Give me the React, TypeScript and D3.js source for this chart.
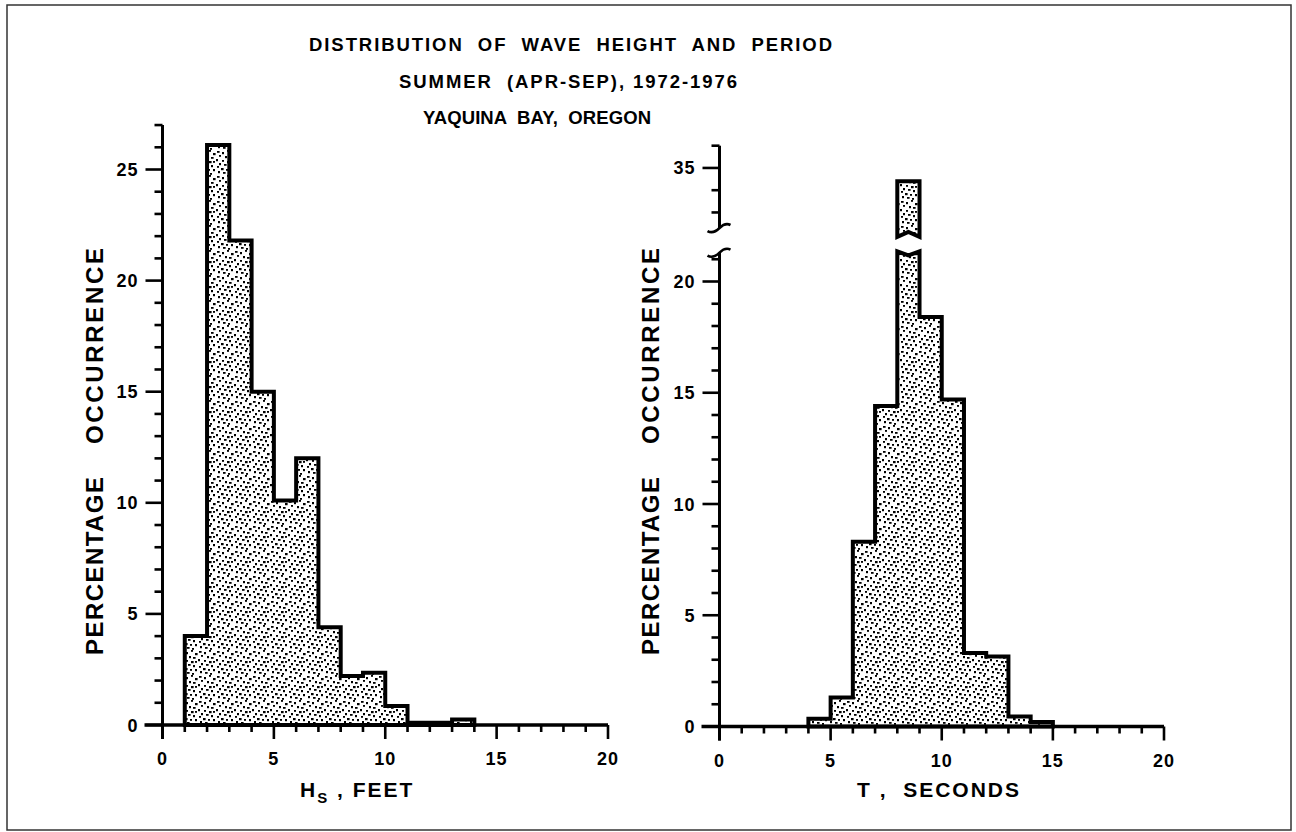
import React from "react";
import * as d3 from "d3";

// ---------- DATA ----------
const hsBinStart = [1, 2, 3, 4, 5, 6, 7, 8, 9, 10, 11, 12, 13];
const hsValues = [4.0, 26.1, 21.8, 15.0, 10.1, 12.0, 4.4, 2.2, 2.35, 0.85, 0.1, 0.1, 0.25];
const tBinStart = [4, 5, 6, 7, 8, 9, 10, 11, 12, 13, 14];
const tValues = [0.35, 1.3, 8.3, 14.4, 34.4, 18.4, 14.7, 3.3, 3.15, 0.45, 0.2];
const binWidth = 1;
const xTickLabels = [0, 5, 10, 15, 20];
const hsYTickLabels = [0, 5, 10, 15, 20, 25];
const tYTickLabelsLower = [0, 5, 10, 15, 20];
const tYTickLabelsUpper = [35];
const titleLines = [
  "DISTRIBUTION  OF  WAVE  HEIGHT  AND  PERIOD",
  "SUMMER  (APR-SEP), 1972-1976",
  "YAQUINA  BAY,  OREGON",
];
const yLabelWords = ["PERCENTAGE", "OCCURRENCE"];

// axis extents / break values
const hsYMax = 27;
const tLowerMax = 21.3;
const tUpperMin = 32.3;
const tUpperMax = 36;
const barBreakLow = 21.35;
const barBreakHigh = 31.9;

// stipple dot offsets (texture only)
const dots = [
  [1, 1], [6, 2], [11, 0], [15, 3], [3, 5], [9, 6], [13, 7], [0, 9], [6, 10], [11, 11],
  [15, 11], [3, 13], [8, 14], [13, 15], [1, 16], [5, 18], [10, 19], [15, 19], [7, 22], [2, 21], [12, 23],
];

const FONT = "'Liberation Sans', Arial, sans-serif";

function xAxis(x: d3.ScaleLinear<number, number>, y0: number, keyp: string) {
  const ticks = d3.range(0, 21, 1);
  return (
    <g key={keyp}>
      <line x1={x(0) - 18} x2={x(20)} y1={y0} y2={y0} stroke="#000" strokeWidth={3.5} />
      {ticks.map((t) => (
        <line key={t} x1={x(t)} x2={x(t)} y1={y0} y2={y0 + (t % 5 === 0 ? 14 : 7)} stroke="#000" strokeWidth={2.6} />
      ))}
      {xTickLabels.map((t) => (
        <text key={"l" + t} x={x(t)} y={y0 + 40} textAnchor="middle" fontSize={18} fontWeight="bold" letterSpacing={1} fontFamily={FONT}>
          {t}
        </text>
      ))}
    </g>
  );
}

function stepPath(
  x: d3.ScaleLinear<number, number>,
  y: d3.ScaleLinear<number, number>,
  starts: number[],
  vals: number[],
  cap?: number
) {
  const pts: [number, number][] = [];
  pts.push([x(starts[0]), y(0)]);
  starts.forEach((s, i) => {
    const v = vals[i];
    const xs = x(s);
    const xe = x(s + binWidth);
    if (cap !== undefined && v > cap) {
      pts.push([xs, y(cap)]);
      pts.push([(xs + xe) / 2, y(cap) + 4]);
      pts.push([xe, y(cap)]);
    } else {
      pts.push([xs, y(v)]);
      pts.push([xe, y(v)]);
    }
  });
  pts.push([x(starts[starts.length - 1] + binWidth), y(0)]);
  return d3.line()(pts) + "Z";
}

export default function App() {
  // left panel
  const xL = d3.scaleLinear().domain([0, 20]).range([162.5, 608]);
  const yL = d3.scaleLinear().domain([0, 25]).range([725, 169.5]);
  // right panel
  const xR = d3.scaleLinear().domain([0, 20]).range([719.5, 1164]);
  const yR = d3.scaleLinear().domain([0, 20]).range([726.5, 281.5]);
  const yRU = d3.scaleLinear().domain([32, 36]).range([234.7, 145.7]);

  const hsPath = stepPath(xL, yL, hsBinStart, hsValues);
  const tPath = stepPath(xR, yR, tBinStart, tValues, barBreakLow);

  const upperPieces = tBinStart
    .map((s, i) => ({ s, v: tValues[i] }))
    .filter((d) => d.v > barBreakLow)
    .map((d) => {
      const xs = xR(d.s);
      const xe = xR(d.s + binWidth);
      const pts: [number, number][] = [
        [xs, yRU(d.v)],
        [xe, yRU(d.v)],
        [xe, yRU(barBreakHigh)],
        [(xs + xe) / 2, yRU(barBreakHigh) - 5],
        [xs, yRU(barBreakHigh)],
      ];
      return d3.line()(pts) + "Z";
    });

  const yTickLen = (t: number) => (t % 5 === 0 ? 17 : 8);

  const squiggle = (cx: number, cy: number) =>
    `M${cx - 12},${cy + 3} C${cx - 7},${cy + 6} ${cx - 3},${cy + 3} ${cx},${cy} C${cx + 3},${cy - 3} ${cx + 7},${cy - 5} ${cx + 11},${cy - 3}`;

  const yLabel = (cx: number) => (
    <g>
      <text transform={`translate(${cx},566) rotate(-90)`} textAnchor="middle" fontSize={24} fontWeight="bold" fontFamily={FONT} textLength={178} lengthAdjust="spacing">
        {yLabelWords[0]}
      </text>
      <text transform={`translate(${cx},346) rotate(-90)`} textAnchor="middle" fontSize={24} fontWeight="bold" fontFamily={FONT} textLength={196} lengthAdjust="spacing">
        {yLabelWords[1]}
      </text>
    </g>
  );

  const titleX = [309, 399, 423];
  const titleY = [51, 88, 124];
  const titleW = [523, 338, 228];

  return (
    <svg width={1296} height={832} style={{ position: "absolute", left: 0, top: 0, background: "#fff" }}>
      <defs>
        <pattern id="stipple" width={18} height={25} patternUnits="userSpaceOnUse">
          <rect width={18} height={25} fill="#fff" />
          {dots.map((d, i) => (
            <rect key={i} x={d[0]} y={d[1]} width={i % 3 === 0 ? 2.6 : 2} height={i % 2 === 0 ? 1.8 : 2.2} fill="#000" />
          ))}
        </pattern>
      </defs>
      <rect x={7} y={5} width={1284} height={825} fill="none" stroke="#333" strokeWidth={1.5} />

      {titleLines.map((t, i) => (
        <text key={i} x={titleX[i]} y={titleY[i]} fontSize={18.5} fontWeight="bold" fontFamily={FONT} textLength={titleW[i]} lengthAdjust="spacing" style={{ whiteSpace: "pre" }}>
          {t}
        </text>
      ))}

      {/* LEFT PANEL */}
      <path d={hsPath} fill="url(#stipple)" stroke="#000" strokeWidth={4} strokeLinejoin="miter" />
      <line x1={xL(0)} x2={xL(0)} y1={yL(0) + 14} y2={yL(hsYMax)} stroke="#000" strokeWidth={3} />
      {d3.range(0, hsYMax + 1).map((t) => (
        <line key={t} x1={xL(0) - yTickLen(t)} x2={xL(0)} y1={yL(t)} y2={yL(t)} stroke="#000" strokeWidth={2.6} />
      ))}
      {hsYTickLabels.map((t) => (
        <text key={t} x={xL(0) - 24} y={yL(t) + 6.5} textAnchor="end" fontSize={18} fontWeight="bold" letterSpacing={1} fontFamily={FONT}>
          {t}
        </text>
      ))}
      {xAxis(xL, yL(0), "xl")}
      {yLabel(103)}
      <text x={300} y={797} fontSize={21} fontWeight="bold" fontFamily={FONT} letterSpacing={2}>
        <tspan>H</tspan>
        <tspan fontSize={15} dy={6}>S</tspan>
        <tspan dy={-6}> , FEET</tspan>
      </text>

      {/* RIGHT PANEL */}
      <path d={tPath} fill="url(#stipple)" stroke="#000" strokeWidth={4} strokeLinejoin="miter" />
      {upperPieces.map((p, i) => (
        <path key={i} d={p} fill="url(#stipple)" stroke="#000" strokeWidth={4} />
      ))}
      <line x1={xR(0)} x2={xR(0)} y1={yR(0) + 14} y2={yR(tLowerMax)} stroke="#000" strokeWidth={3} />
      <line x1={xR(0)} x2={xR(0)} y1={yRU(tUpperMin)} y2={yRU(tUpperMax)} stroke="#000" strokeWidth={3} />
      <path d={squiggle(xR(0), yR(tLowerMax))} fill="none" stroke="#000" strokeWidth={2.6} />
      <path d={squiggle(xR(0), yRU(tUpperMin))} fill="none" stroke="#000" strokeWidth={2.6} />
      {d3.range(0, 22).map((t) => (
        <line key={t} x1={xR(0) - yTickLen(t)} x2={xR(0)} y1={yR(t)} y2={yR(t)} stroke="#000" strokeWidth={2.6} />
      ))}
      {d3.range(33, 37).map((t) => (
        <line key={"u" + t} x1={xR(0) - yTickLen(t)} x2={xR(0)} y1={yRU(t)} y2={yRU(t)} stroke="#000" strokeWidth={2.6} />
      ))}
      {tYTickLabelsLower.map((t) => (
        <text key={t} x={xR(0) - 24} y={yR(t) + 6.5} textAnchor="end" fontSize={18} fontWeight="bold" letterSpacing={1} fontFamily={FONT}>
          {t}
        </text>
      ))}
      {tYTickLabelsUpper.map((t) => (
        <text key={"u" + t} x={xR(0) - 24} y={yRU(t) + 6.5} textAnchor="end" fontSize={18} fontWeight="bold" letterSpacing={1} fontFamily={FONT}>
          {t}
        </text>
      ))}
      {xAxis(xR, yR(0), "xr")}
      {yLabel(659)}
      <text x={857} y={797} fontSize={21} fontWeight="bold" fontFamily={FONT} letterSpacing={2} style={{ whiteSpace: "pre" }}>
        T ,  SECONDS
      </text>
    </svg>
  );
}
